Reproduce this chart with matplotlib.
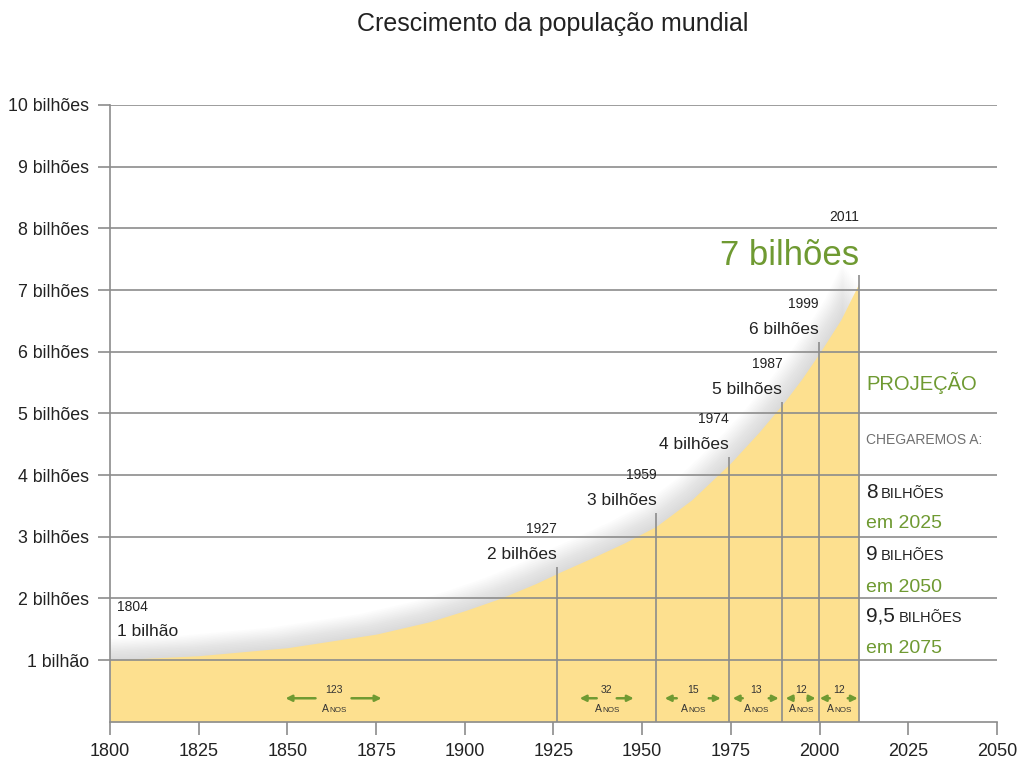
import matplotlib.pyplot as plt

plt.rcParams['font.family'] = ['Liberation Sans Narrow', 'Liberation Sans', 'DejaVu Sans']

# population curve (year, billions)
anos = [1800, 1825, 1850, 1875, 1890, 1900, 1910, 1920, 1927, 1936, 1945,
        1954, 1964, 1975, 1983, 1990, 1995, 2000, 2006, 2011]
populacao = [1.0, 1.07, 1.2, 1.42, 1.62, 1.8, 2.0, 2.24, 2.43, 2.66, 2.9,
             3.17, 3.6, 4.2, 4.7, 5.18, 5.56, 5.98, 6.52, 7.1]

# milestone lines
marco_x = [1926, 1954, 1974.5, 1989.5, 1999.8, 2011]
marco_topo = [2.51, 3.38, 4.30, 5.19, 6.16, 7.24]
marco_ano = ['1927', '1959', '1974', '1987', '1999', '2011']
marco_texto = ['2 bilhões', '3 bilhões', '4 bilhões', '5 bilhões', '6 bilhões', '7 bilhões']

intervalo_anos = ['123', '32', '15', '13', '12', '12']

x_ticks = list(range(1800, 2051, 25))
y_ticks = list(range(1, 11))
y_labels = ['1 bilhão'] + ['%d bilhões' % v for v in range(2, 11)]

projecao_num = ['8', '9', '9,5']
projecao_em = ['em 2025', 'em 2050', 'em 2075']

amarelo = '#fde08f'
verde = '#6f9a32'
cinza = '#8c8c8c'
texto = '#222222'

fig = plt.figure(figsize=(10.24, 7.68), dpi=100)
ax = fig.add_axes([110 / 1024, 46.3 / 768, 887 / 1024, 616.7 / 768])
ax.set_xlim(1800, 2050)
ax.set_ylim(0, 10)
px_ano = 887 / 250.0

# soft shadow above the curve
for k in range(1, 15):
    xs = [a - k * 0.33 for a in anos]
    ys = [p + k * 0.024 for p in populacao]
    ax.fill_between(xs, 0, ys, color='#808080', alpha=0.018, lw=0, zorder=0.8)
ax.fill_between(anos, 0, populacao, color=amarelo, lw=0, zorder=1)

# grid and axes
ax.set_yticks(y_ticks)
ax.set_yticklabels(y_labels)
ax.set_xticks(x_ticks)
ax.set_axisbelow(False)
ax.yaxis.grid(True, color=cinza, lw=1.2, zorder=2.5)
for s in ['top', 'right']:
    ax.spines[s].set_visible(False)
for s in ['left', 'bottom']:
    ax.spines[s].set_color(cinza)
    ax.spines[s].set_linewidth(1.2)
ax.tick_params(axis='both', colors=cinza, length=9, width=1.2,
               labelcolor=texto, pad=6)
ax.tick_params(axis='y', labelsize=12.8)
ax.tick_params(axis='x', labelsize=13)

ax.vlines(marco_x, 0, marco_topo, color=cinza, lw=1.2, zorder=3)

# milestone labels
ax.text(1802, 1.86, '1804', fontsize=10, color=texto, ha='left', va='center', zorder=5)
ax.text(1802, 1.47, '1 bilhão', fontsize=12.5, color=texto, ha='left', va='center', zorder=5)
for i in range(len(marco_x)):
    if i == len(marco_x) - 1:
        ax.text(marco_x[i], marco_topo[i] + 0.16, marco_texto[i], fontsize=25,
                color=verde, ha='right', va='baseline', zorder=5)
        ax.text(marco_x[i], marco_topo[i] + 0.88, marco_ano[i], fontsize=10,
                color=texto, ha='right', va='baseline', zorder=5)
    else:
        ax.text(marco_x[i], marco_topo[i] + 0.13, marco_texto[i], fontsize=12.5,
                color=texto, ha='right', va='baseline', zorder=5)
        ax.text(marco_x[i], marco_topo[i] + 0.55, marco_ano[i], fontsize=10,
                color=texto, ha='right', va='baseline', zorder=5)

# interval labels with arrows
limites = [1800] + marco_x
setas_px = [(18, 48), (10, 27), (16, 28), (13, 23), (7, 15), (9, 19)]
for i, n in enumerate(intervalo_anos):
    cx = (limites[i] + limites[i + 1]) / 2.0
    ax.text(cx, 0.51, n, fontsize=7.5, color='#333333', ha='center', va='center', zorder=5)
    ta = ax.text(cx - 4.5 / px_ano, 0.15, 'A', fontsize=7.5, color='#333333',
                 ha='right', va='baseline', zorder=5)
    ax.annotate('NOS', xy=(1, 0), xycoords=ta, xytext=(0, 0), textcoords='offset points',
                fontsize=5.8, color='#333333', ha='left', va='bottom', zorder=5)
    dentro, fora = setas_px[i]
    for lado in (-1, 1):
        ax.annotate('', xy=(cx + lado * fora / px_ano, 0.38),
                    xytext=(cx + lado * dentro / px_ano, 0.38),
                    arrowprops=dict(arrowstyle='-|>', color=verde, lw=1.8,
                                    mutation_scale=9, shrinkA=0, shrinkB=0),
                    zorder=5)

# projection panel
px0 = 2013.1
ax.text(px0, 5.49, 'PROJEÇÃO', fontsize=14.5, color=verde, ha='left', va='center', zorder=5)
ax.text(px0, 4.56, 'CHEGAREMOS A:', fontsize=10, color='#707070', ha='left', va='center', zorder=5)
base_num = [3.63, 2.62, 1.62]
base_em = [3.14, 2.11, 1.11]
for i in range(len(projecao_num)):
    tn = ax.text(px0, base_num[i], projecao_num[i], fontsize=15, color=texto,
                 ha='left', va='baseline', zorder=5)
    ax.annotate('BILHÕES', xy=(1, 0), xycoords=tn, xytext=(2.5, 0.8),
                textcoords='offset points', fontsize=10.5, color=texto,
                ha='left', va='bottom', zorder=5)
    ax.text(px0, base_em[i], projecao_em[i], fontsize=14, color=verde,
            ha='left', va='baseline', zorder=5)

fig.text(553 / 1024, 1 - 24 / 768, 'Crescimento da população mundial', fontsize=18,
         color=texto, ha='center', va='center')

fig.savefig('out.png', dpi=100, facecolor='white')
